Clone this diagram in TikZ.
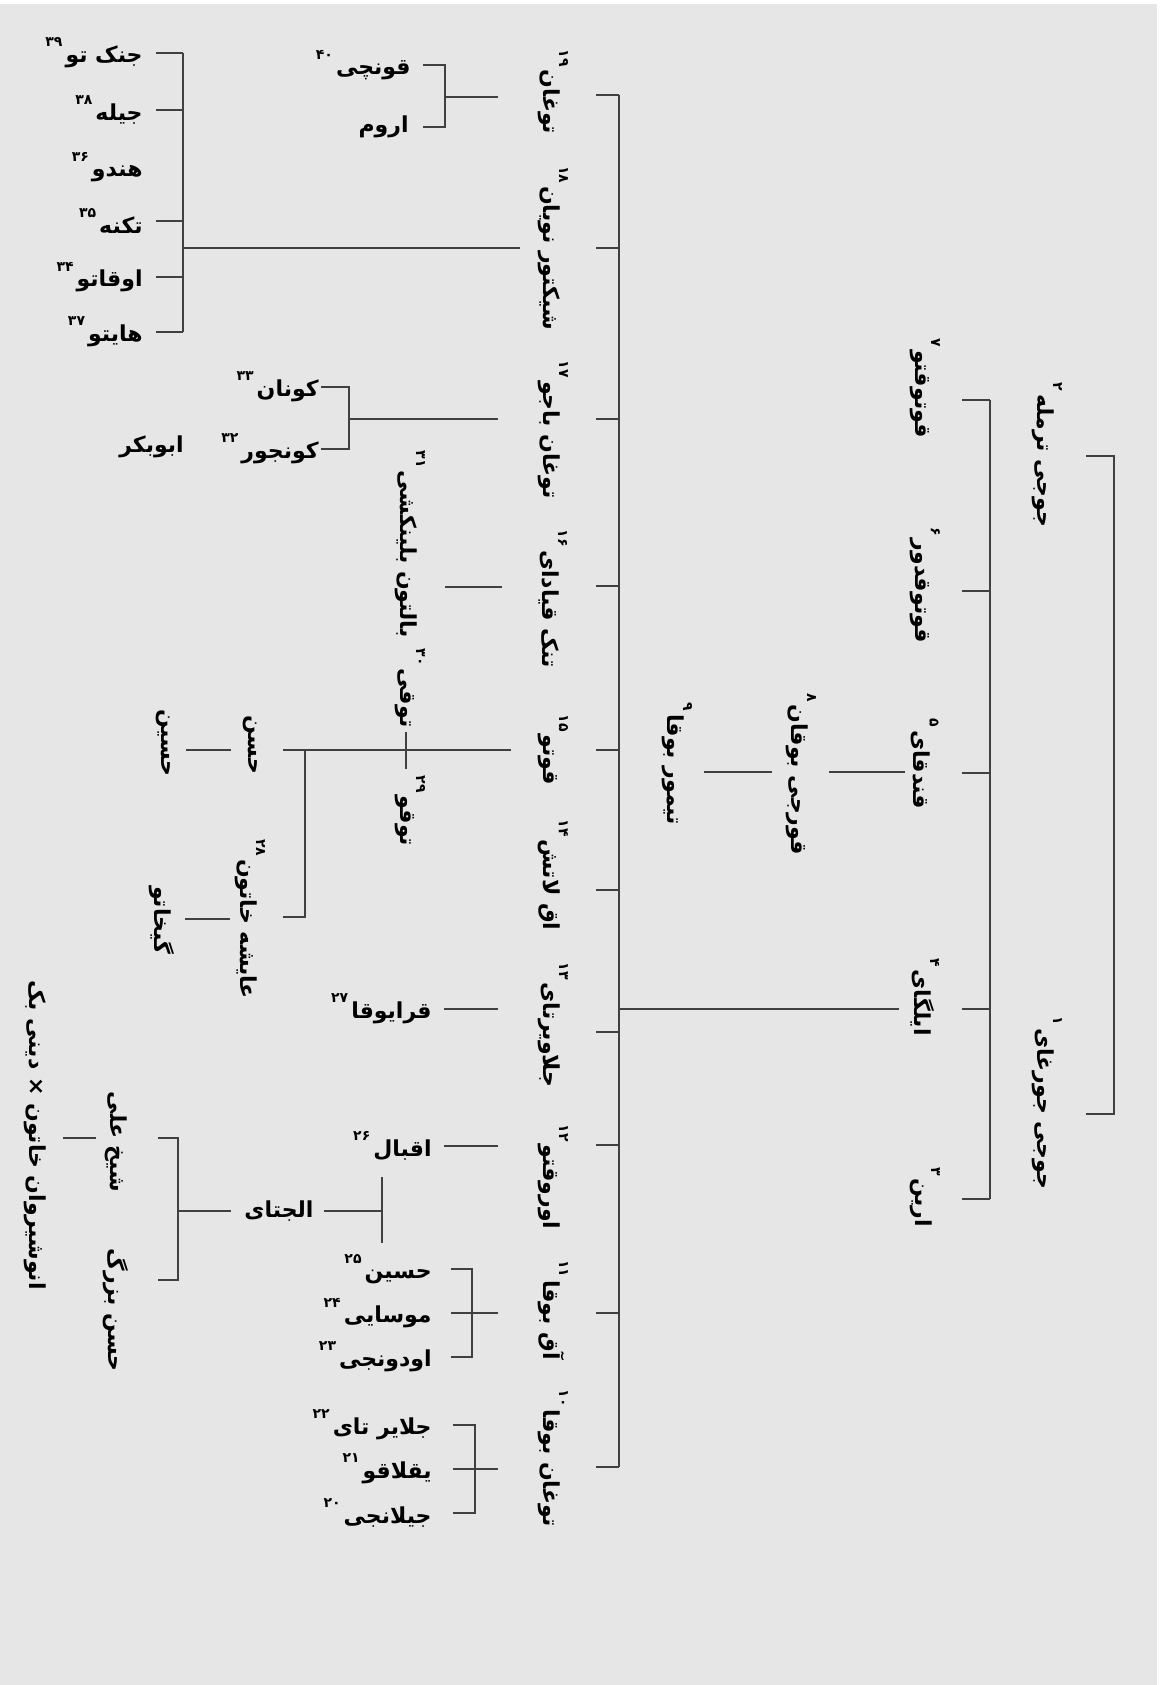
\documentclass[tikz,border=0pt]{standalone}
\usepackage{fontspec}
\newfontfamily\arabicfont[Script=Arabic]{DejaVu Sans}
\TeXXeTstate=1
\definecolor{bgfill}{HTML}{E6E6E6}
\newcommand{\fa}[1]{\beginR#1\endR}
\newcommand{\sn}[1]{\kern1.5pt\raisebox{1.3ex}{\fontsize{7}{7}\selectfont#1}}
\tikzset{
  tree/.style={draw=black!75, line width=0.6pt},
  vname/.style={rotate=-90, inner sep=1pt, font=\arabicfont\bfseries\fontsize{11}{12}\selectfont},
  hname/.style={anchor=east, inner sep=1pt, font=\arabicfont\bfseries\fontsize{11}{12}\selectfont},
}

\begin{document}
\begin{tikzpicture}[x=0.5pt,y=-0.5pt]
  \useasboundingbox (0,0) rectangle (1160,1685);
  \fill[bgfill] (0,4) rectangle (1157,1685);

  % first generation
  \node[vname] (p2) at (1047,455) {\fa{جوجی ترمله\sn{۲}}};
  \node[vname] (p1) at (1047,1103) {\fa{جوجی جورغای\sn{۱}}};

  % second generation
  \node[vname] (p7) at (925,388) {\fa{قوتوقتو\sn{۷}}};
  \node[vname] (p6) at (925,585) {\fa{قوتوقدور\sn{۶}}};
  \node[vname] (p5) at (925,764) {\fa{قندقای\sn{۵}}};
  \node[vname] (p4) at (925,997) {\fa{ایلگای\sn{۴}}};
  \node[vname] (p3) at (925,1197) {\fa{ارین\sn{۳}}};
  \node[vname] (p8) at (801,774) {\fa{قورجی بوقان\sn{۸}}};
  \node[vname] (p9) at (677,764) {\fa{تیمور بوقا\sn{۹}}};

  % third generation
  \node[vname] (p19) at (553,92) {\fa{توغان\sn{۱۹}}};
  \node[vname] (p18) at (553,248) {\fa{شیکتور نویان\sn{۱۸}}};
  \node[vname] (p17) at (553,430) {\fa{توغان باجو\sn{۱۷}}};
  \node[vname] (p16) at (553,599) {\fa{تنک قیادای\sn{۱۶}}};
  \node[vname] (p15) at (553,750) {\fa{قوتو\sn{۱۵}}};
  \node[vname] (p14) at (553,875) {\fa{اق لاتش\sn{۱۴}}};
  \node[vname] (p13) at (553,1025) {\fa{جلاویرتای\sn{۱۳}}};
  \node[vname] (p12) at (553,1177) {\fa{اوروقتو\sn{۱۲}}};
  \node[vname] (p11) at (553,1310) {\fa{آق بوقا\sn{۱۱}}};
  \node[vname] (p10) at (553,1458) {\fa{توغان بوقا\sn{۱۰}}};

  % further down, turned
  \node[vname] (p31) at (410,544) {\fa{بالتون بلینکشی\sn{۳۱}}};
  \node[vname] (p30) at (410,688) {\fa{توقی\sn{۳۰}}};
  \node[vname] (p29) at (410,811) {\fa{توقو\sn{۲۹}}};
  \node[vname] (hasan) at (250,745) {\fa{حسن}};
  \node[vname] (husayn) at (163,743) {\fa{حسین}};
  \node[vname] (p28) at (250,919) {\fa{عایشه خاتون\sn{۲۸}}};
  \node[vname] (gaykhatu) at (162,920) {\fa{گیخاتو}};
  \node[vname] (shaykhali) at (116,1142) {\fa{شیخ علی}};
  \node[vname] (hasanb) at (116,1310) {\fa{حسن بزرگ}};
  \node[vname] (anush) at (35,1135) {\fa{انوشیروان خاتون × دینی بک}};

  % further down, level
  \node[hname] (p40) at (413,65) {\fa{قونچی\sn{۴۰}}};
  \node[hname] (urum) at (411,127) {\fa{اروم}};
  \node[hname] (p39) at (145,53) {\fa{جنک تو\sn{۳۹}}};
  \node[hname] (p38) at (145,110) {\fa{جیله\sn{۳۸}}};
  \node[hname] (p36) at (145,167) {\fa{هندو\sn{۳۶}}};
  \node[hname] (p35) at (145,221) {\fa{تکنه\sn{۳۵}}};
  \node[hname] (p34) at (145,277) {\fa{اوقاتو\sn{۳۴}}};
  \node[hname] (p37) at (145,332) {\fa{هایتو\sn{۳۷}}};
  \node[hname] (p33) at (321,387) {\fa{کونان\sn{۳۳}}};
  \node[hname] (p32) at (321,449) {\fa{کونجور\sn{۳۲}}};
  \node[hname] (abubakr) at (186,447) {\fa{ابوبکر}};
  \node[hname] (p27) at (434,1009) {\fa{قرایوقا\sn{۲۷}}};
  \node[hname] (p26) at (434,1146) {\fa{اقبال\sn{۲۶}}};
  \node[hname,anchor=center] (eljetay) at (279,1211) {\fa{الجتای}};
  \node[hname] (p25) at (434,1269) {\fa{حسین\sn{۲۵}}};
  \node[hname] (p24) at (434,1313) {\fa{موسایی\sn{۲۴}}};
  \node[hname] (p23) at (434,1357) {\fa{اودونجی\sn{۲۳}}};
  \node[hname] (p22) at (434,1425) {\fa{جلایر تای\sn{۲۲}}};
  \node[hname] (p21) at (434,1469) {\fa{یقلاقو\sn{۲۱}}};
  \node[hname] (p20) at (434,1513) {\fa{جیلانجی\sn{۲۰}}};

  % bracket of the first generation
  \coordinate (b1) at (1114,0);
  \coordinate (s2) at (1086,456);
  \coordinate (s1) at (1086,1114);
  \draw[tree] (s2) -- (s2 -| b1) -- (s1 -| b1) -- (s1);

  % bracket of the second generation
  \coordinate (b2) at (990,0);
  \foreach \n/\y in {7/400,6/591,5/773,4/1009,3/1199}
    \coordinate (s\n) at (962,\y);
  \foreach \n in {7,6,5,4,3}
    \draw[tree] (s\n) -- (s\n -| b2);
  \draw[tree] (s7 -| b2) -- (s3 -| b2);

  % p5 -- p8 -- p9
  \coordinate (t5) at (905,772);
  \coordinate (t8) at (829,772);
  \coordinate (u8) at (772,772);
  \coordinate (t9) at (704,772);
  \draw[tree] (t5) -- (t8);
  \draw[tree] (u8) -- (t9);

  % bracket of the third generation
  \coordinate (b3) at (619,0);
  \coordinate (t4) at (899,1009);
  \draw[tree] (t4) -- (t4 -| b3);
  \foreach \n/\y in {19/95,18/248,17/419,16/586,15/750,14/890,13/1032,12/1145,11/1313,10/1467}
    \coordinate (s\n) at (596,\y);
  \foreach \n in {19,18,17,16,15,14,13,12,11,10}
    \draw[tree] (s\n) -- (s\n -| b3);
  \draw[tree] (s19 -| b3) -- (s10 -| b3);

  % children of p19
  \coordinate (c19) at (498,97);
  \coordinate (b19) at (445,0);
  \coordinate (s40) at (423,65);
  \coordinate (surum) at (423,127);
  \draw[tree] (c19) -- (c19 -| b19);
  \draw[tree] (s40) -- (s40 -| b19) -- (surum -| b19) -- (surum);

  % children of p18
  \coordinate (c18) at (520,248);
  \coordinate (b18) at (183,0);
  \draw[tree] (c18) -- (c18 -| b18);
  \foreach \n/\y in {39/53,38/110,35/221,34/277,37/332}
    \coordinate (s\n) at (156,\y);
  \foreach \n in {39,38,35,34,37}
    \draw[tree] (s\n) -- (s\n -| b18);
  \draw[tree] (s39 -| b18) -- (s37 -| b18);

  % children of p17
  \coordinate (c17) at (498,419);
  \coordinate (b17) at (349,0);
  \coordinate (s33) at (321,387);
  \coordinate (s32) at (321,449);
  \draw[tree] (c17) -- (c17 -| b17);
  \draw[tree] (s33) -- (s33 -| b17) -- (s32 -| b17) -- (s32);

  % p16
  \coordinate (c16) at (502,587);
  \coordinate (e16) at (445,587);
  \draw[tree] (c16) -- (e16);

  % p15 and below
  \coordinate (c15) at (511,750);
  \coordinate (e15) at (283,750);
  \draw[tree] (c15) -- (e15);
  \coordinate (k30) at (406,732);
  \coordinate (k29) at (406,769);
  \draw[tree] (k30) -- (k29);
  \coordinate (m15) at (305,750);
  \coordinate (m28) at (283,917);
  \draw[tree] (m15) |- (m28);
  \coordinate (h1) at (231,750);
  \coordinate (h2) at (186,750);
  \draw[tree] (h1) -- (h2);
  \coordinate (g1) at (230,919);
  \coordinate (g2) at (185,919);
  \draw[tree] (g1) -- (g2);

  % p13, p12
  \coordinate (c13) at (498,1009);
  \coordinate (e13) at (444,1009);
  \draw[tree] (c13) -- (e13);
  \coordinate (c12) at (498,1146);
  \coordinate (e12) at (444,1146);
  \draw[tree] (c12) -- (e12);

  % p26 x p25 -> eljetay
  \coordinate (v26) at (382,1177);
  \coordinate (v25) at (382,1243);
  \coordinate (w1) at (324,1211);
  \draw[tree] (v26) -- (v25);
  \draw[tree] (w1) -- (w1 -| v26);
  \coordinate (w2) at (231,1211);
  \coordinate (b8) at (178,0);
  \coordinate (ssa) at (158,1138);
  \coordinate (shb) at (158,1280);
  \draw[tree] (w2) -- (w2 -| b8);
  \draw[tree] (ssa) -- (ssa -| b8) -- (shb -| b8) -- (shb);
  \coordinate (a1) at (96,1138);
  \coordinate (a2) at (63,1138);
  \draw[tree] (a1) -- (a2);

  % children of p11
  \coordinate (c11) at (498,1313);
  \coordinate (b11) at (472,0);
  \coordinate (s25) at (451,1269);
  \coordinate (s24) at (451,1313);
  \coordinate (s23) at (451,1357);
  \draw[tree] (c11) -- (s24);
  \draw[tree] (s25) -- (s25 -| b11) -- (s23 -| b11) -- (s23);

  % children of p10
  \coordinate (c10) at (498,1469);
  \coordinate (b10) at (475,0);
  \coordinate (s22) at (453,1425);
  \coordinate (s21) at (453,1469);
  \coordinate (s20) at (453,1513);
  \draw[tree] (c10) -- (s21);
  \draw[tree] (s22) -- (s22 -| b10) -- (s20 -| b10) -- (s20);
\end{tikzpicture}
\end{document}
